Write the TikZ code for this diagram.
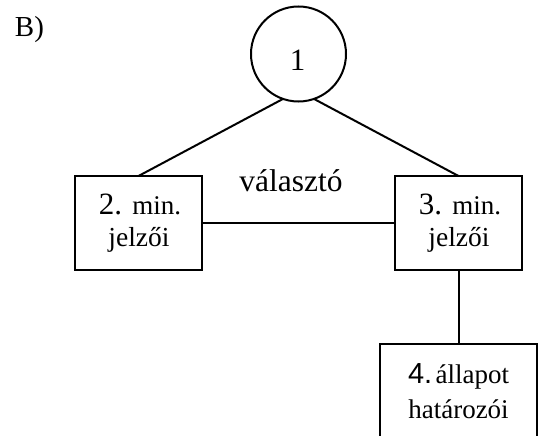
\documentclass[tikz,border=0pt]{standalone}
\usepackage{fontspec}
\setmainfont{Liberation Serif}
\newfontfamily\arialfont{Liberation Sans}
\begin{document}
\begin{tikzpicture}[x=1pt,y=-1pt,
  ln/.style={line width=2pt},
  boxnode/.style={draw,ln,rectangle,inner sep=0pt,outer sep=0pt,minimum width=127pt,minimum height=94pt},
  circnode/.style={draw,ln,circle,inner sep=0pt,outer sep=0pt,minimum size=95pt},
  txt/.style={inner sep=0pt,outer sep=0pt,anchor=base}
]
\useasboundingbox (0,0) rectangle (539,436);
% nodes
\node[circnode] (c) at (298.5,54) {};
\node[boxnode] (b2) at (138.5,223) {};
\node[boxnode] (b3) at (458.5,223) {};
\node[boxnode,minimum width=157pt,minimum height=110pt] (b4) at (458.5,399) {};
% texts
\node[txt,anchor=base west] (lbl) at (15,37) {\fontsize{29}{34}\selectfont B)};
\node[txt] (t1) at (297.5,70.7) {\fontsize{31}{36}\selectfont 1};
\node[txt] (sel) at (291,191.7) {\fontsize{31.5}{36}\selectfont választó};
\node[txt] (t2a) at (140,214.5) {\fontsize{31}{36}\selectfont 2. \fontsize{27}{32}\selectfont min.};
\node[txt] (t2b) at (139,246.5) {\fontsize{27.5}{32}\selectfont jelzői};
\node[txt] (t3a) at (460,214.5) {\fontsize{31}{36}\selectfont 3. \fontsize{27}{32}\selectfont min.};
\node[txt] (t3b) at (459,246.5) {\fontsize{27.5}{32}\selectfont jelzői};
\node[txt] (t4a) at (458.5,383) {{\arialfont\fontsize{29}{34}\selectfont 4.} \fontsize{27}{32}\selectfont állapot};
\node[txt] (t4b) at (458.5,418) {\fontsize{27}{32}\selectfont határozói};
% connectors
\draw[ln] (c.251) -- (b2.north);
\draw[ln] (c.289) -- (b3.north);
\draw[ln] (b2) -- (b3);
\draw[ln] (b3.south) -- (b4.north);
\end{tikzpicture}
\end{document}
